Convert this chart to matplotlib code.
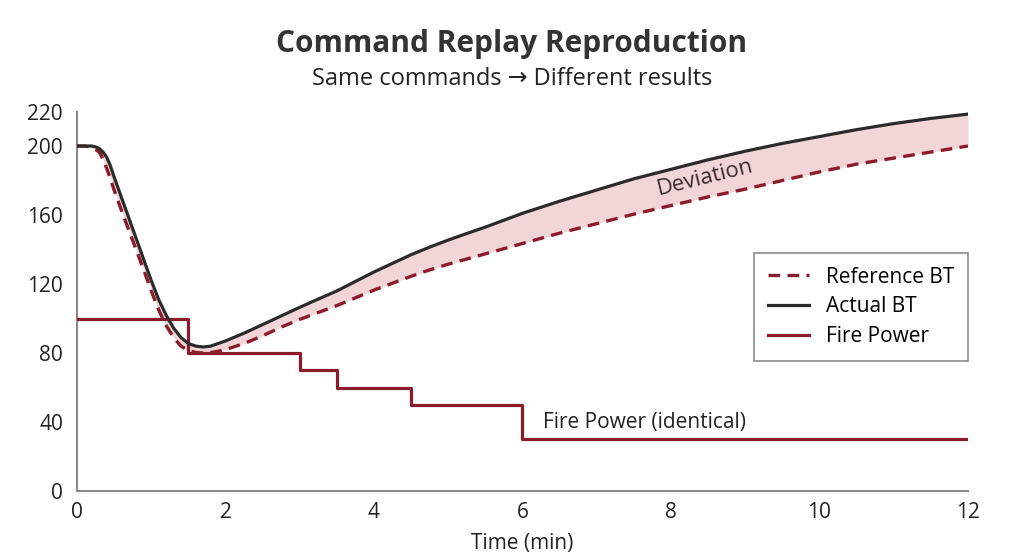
import matplotlib
matplotlib.use("Agg")
import matplotlib.pyplot as plt

plt.rcParams['font.family'] = ['Open Sans', 'DejaVu Sans']

# ---- data ----
time_bt = [0, 0.1, 0.15, 0.2, 0.25, 0.3, 0.35, 0.4, 0.45, 0.5, 0.6, 0.7, 0.8, 0.9, 1.0,
           1.1, 1.2, 1.3, 1.4, 1.5, 1.6, 1.7, 1.8, 1.9, 2.0, 2.25, 2.5, 2.75, 3.0,
           3.25, 3.5, 3.75, 4.0, 4.25, 4.5, 4.75, 5.0, 5.25, 5.5, 5.75, 6.0, 6.5, 7.0,
           7.5, 8.0, 8.5, 9.0, 9.5, 10.0, 10.5, 11.0, 11.5, 12.0]
actual_bt = [200, 200, 200, 200, 199.5, 198.5, 196.5, 193.5, 188.5, 182, 170, 158, 146, 134, 122,
             111, 102, 94.5, 89, 85.5, 84, 83.5, 84, 85.5, 87, 91.5, 96.5, 101.5, 106.5,
             111.3, 116, 121.5, 127, 132, 137, 141.4, 145.5, 149.3, 153, 157, 161, 168, 174.5,
             181, 186.5, 192, 197, 201.5, 205.5, 209.5, 213, 216, 218.5]
reference_bt = [200, 200, 199.7, 199, 198, 196.5, 192.5, 187, 181, 174.5, 162.5, 151, 139.5, 128, 116,
                105, 96, 89, 84, 81.5, 80.3, 80, 80.3, 81, 82, 85.5, 90, 95, 99.5,
                103.5, 107.5, 112, 116.5, 120.5, 124.5, 128.2, 131.5, 134.5, 137.5, 140.5, 143.5, 149.5, 155,
                160.5, 165.5, 170.5, 175, 180, 185, 189.5, 193, 196.5, 200]

fire_time = [0, 1.5, 3.0, 3.5, 4.5, 6.0, 12.0]
fire_power = [100, 80, 70, 60, 50, 30, 30]

x_ticks = [0, 2, 4, 6, 8, 10, 12]
y_ticks = [0, 40, 80, 120, 160, 200, 220]

title = "Command Replay Reproduction"
subtitle = "Same commands \u2192 Different results"

dark_red = "#8c1c2c"
dark = "#2b2b2b"
fill_col = "#e8b9bd"

fig = plt.figure(figsize=(10.24, 5.59), dpi=100)
ax = fig.add_axes([0.0752, 0.1216, 0.8701, 0.6789])

ax.fill_between(time_bt, reference_bt, actual_bt, color=fill_col, alpha=0.6, linewidth=0)
ax.step(fire_time, fire_power, where='post', color=dark_red, lw=2.3, label="Fire Power", zorder=3)
ax.plot(time_bt, reference_bt, color=dark_red, lw=2.4, ls=(0, (3.5, 2.2)), label="Reference BT", zorder=4)
ax.plot(time_bt, actual_bt, color=dark, lw=2.3, label="Actual BT", zorder=5)

ax.set_xlim(0, 12)
ax.set_ylim(0, 220)
ax.set_xticks(x_ticks)
ax.set_yticks(y_ticks)
ax.tick_params(length=0, labelsize=15, colors="#222222")
ax.tick_params(axis='x', pad=8)
ax.tick_params(axis='y', pad=10)
for s in ['top', 'right']:
    ax.spines[s].set_visible(False)
for s in ['left', 'bottom']:
    ax.spines[s].set_color("#8a8a8a")
    ax.spines[s].set_linewidth(1.5)

ax.set_xlabel("Time (min)", fontsize=15, color="#222222", labelpad=7)

handles, labels = ax.get_legend_handles_labels()
order = [labels.index("Reference BT"), labels.index("Actual BT"), labels.index("Fire Power")]
leg = ax.legend([handles[i] for i in order], [labels[i] for i in order],
                loc='upper right', bbox_to_anchor=(1.0, 0.627), borderaxespad=0,
                fontsize=15, frameon=True, fancybox=False, handlelength=2.0,
                labelspacing=0.42, borderpad=0.65, handletextpad=0.8)
leg.get_frame().set_edgecolor("#707070")
leg.get_frame().set_linewidth(1.2)

ax.text(8.46, 181.4, "Deviation", fontsize=16, color="#3a2a2a", rotation=14,
        ha='center', va='center', zorder=6)
ax.text(6.28, 40, "Fire Power (identical)", fontsize=15, color="#222222",
        ha='left', va='center')

fig.text(0.5, 0.922, title, fontsize=21.5, fontweight='bold', color="#333333",
         ha='center', va='center')
fig.text(0.5, 0.859, subtitle, fontsize=17, color="#222222", ha='center', va='center')

fig.savefig("out.png", dpi=100)
